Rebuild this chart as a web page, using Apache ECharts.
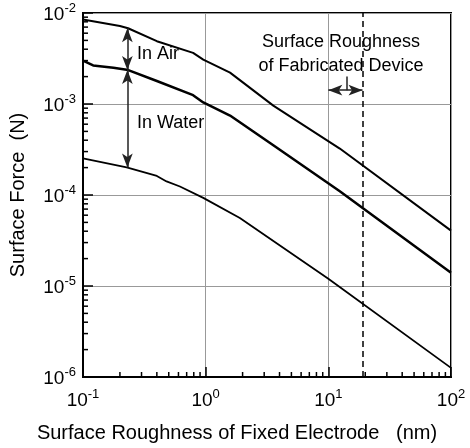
<!DOCTYPE html>
<html><head><meta charset="utf-8">
<script src="https://cdn.jsdelivr.net/npm/echarts@6/dist/echarts.min.js"></script>
<style>html,body{margin:0;padding:0;background:#fff}#c{width:470px;height:448px}</style>
</head><body><div id="c"></div>
<script>
// Data (x: nm, y: N)
var airX = [0.1, 0.2, 0.233, 0.40, 0.79, 0.956, 1.58, 3.56, 12.4, 100];
var airY = [8.5e-3, 7.2e-3, 6.8e-3, 4.9e-3, 3.65e-3, 3.08e-3, 2.21e-3, 9.6e-4, 3.24e-4, 4.06e-5];
var midX = [0.1, 0.121, 0.177, 0.234, 0.40, 0.79, 0.956, 1.58, 3.56, 12.4, 100];
var midY = [3.0e-3, 2.65e-3, 2.5e-3, 2.36e-3, 1.79e-3, 1.25e-3, 1.04e-3, 7.46e-4, 3.52e-4, 1.1e-4, 1.4e-5];
var lowX = [0.1, 0.227, 0.40, 0.48, 0.617, 0.956, 1.90, 10, 100];
var lowY = [2.52e-4, 2.01e-4, 1.62e-4, 1.41e-4, 1.24e-4, 9.3e-5, 5.6e-5, 1.2e-5, 1.26e-6];
var xMajor = [0.1, 1, 10, 100];
var yMajor = [1e-6, 1e-5, 1e-4, 1e-3, 1e-2];
var deviceRoughness = 19;          // dashed line (nm)
var deviceRange = [10, 19];        // arrow range (nm)
var arrowX = 0.23;                 // x of the vertical arrows
var airArrow = [6.8e-3, 2.36e-3];
var waterArrow = [2.36e-3, 2.0e-4];

function zip(a, b) { return a.map(function (v, i) { return [v, b[i]]; }); }
function minors(majors) {
  var out = [];
  for (var i = 0; i < majors.length - 1; i++) for (var k = 2; k <= 9; k++) out.push(+(majors[i] * k).toPrecision(6));
  return out;
}
var xMinor = minors(xMajor), yMinor = minors(yMajor);
var FONT = '"Liberation Sans", Arial, sans-serif';
var rich = {
  b: { fontSize: 19, fontFamily: FONT, color: '#000', verticalAlign: 'bottom' },
  s: { fontSize: 13, fontFamily: FONT, color: '#000', verticalAlign: 'bottom', padding: [0, 0, 9, 0] }
};
function powFmt(v) {
  var e = Math.round(Math.log10(v));
  return '{b|10}{s|' + e + '}';
}
var chart = echarts.init(document.getElementById('c'));
var lineBase = { type: 'line', showSymbol: false, symbol: 'none', silent: true, animation: false, z: 3 };
// minor tick anchors: [x, y, kind] (kind 0 = on x axis, 1 = on y axis)
var tickData = xMinor.map(function (v) { return [v, yMajor[0], 0]; })
  .concat(yMinor.map(function (v) { return [xMajor[0], v, 1]; }));
chart.setOption({
  animation: false,
  grid: { left: 83, top: 13, right: 19, bottom: 66, show: true, borderColor: '#000', borderWidth: 2 },
  xAxis: {
    type: 'log', logBase: 10, min: 0.1, max: 100,
    name: 'Surface Roughness of Fixed Electrode   (nm)', nameLocation: 'middle', nameGap: 46,
    nameTextStyle: { fontSize: 20, fontFamily: FONT, color: '#000', padding: [0, 60, 0, 0] },
    axisLine: { lineStyle: { color: '#000', width: 2 } },
    axisTick: { inside: true, length: 10, lineStyle: { color: '#000', width: 1.5 } },
    axisLabel: { margin: 11, formatter: powFmt, rich: rich },
    splitLine: { show: true, lineStyle: { color: '#999', width: 1 } }
  },
  yAxis: {
    type: 'log', logBase: 10, min: 1e-6, max: 1e-2,
    name: 'Surface Force  (N)', nameLocation: 'middle', nameGap: 55,
    nameTextStyle: { fontSize: 20, fontFamily: FONT, color: '#000' },
    axisLine: { lineStyle: { color: '#000', width: 2 } },
    axisTick: { inside: true, length: 10, lineStyle: { color: '#000', width: 1.5 } },
    axisLabel: { margin: 7, formatter: powFmt, rich: rich },
    splitLine: { show: true, lineStyle: { color: '#999', width: 1 } }
  },
  series: [
    {
      type: 'custom', clip: false, z: 10,
      data: tickData,
      encode: { x: 0, y: 1 },
      renderItem: function (params, api) {
        var p = api.coord([api.value(0), api.value(1)]);
        var kind = api.value(2);
        var shape = kind === 0
          ? { x1: p[0], y1: p[1], x2: p[0], y2: p[1] - 5 }
          : { x1: p[0], y1: p[1], x2: p[0] + 5, y2: p[1] };
        return { type: 'line', shape: shape, style: { stroke: '#000', lineWidth: 1.5 } };
      }
    },
    Object.assign({}, lineBase, {
      data: zip(airX, airY), lineStyle: { color: '#000', width: 2 },
      markLine: {
        silent: true, symbol: 'none', animation: false,
        lineStyle: { color: '#000', width: 1.5, type: [6, 4] }, label: { show: false },
        data: [{ xAxis: deviceRoughness }]
      }
    }),
    Object.assign({}, lineBase, {
      data: zip(midX, midY), lineStyle: { color: '#000', width: 2.5 },
      markLine: {
        silent: true, animation: false, symbol: ['arrow', 'arrow'], symbolSize: [8, 14],
        lineStyle: { color: '#222', width: 1.5, type: 'solid' }, label: { show: false },
        data: [
          [{ coord: [arrowX, airArrow[0]] }, { coord: [arrowX, airArrow[1]] }],
          [{ coord: [arrowX, waterArrow[0]] }, { coord: [arrowX, waterArrow[1]] }],
          [{ coord: [deviceRange[0], 1.42e-3] }, { coord: [deviceRange[1], 1.42e-3] }],
          [{ coord: [14.1, 2.0e-3], symbol: 'none' }, { coord: [14.1, 1.42e-3], symbol: 'none' }]
        ]
      },
      markPoint: {
        silent: true, animation: false, symbol: 'circle', symbolSize: 0,
        data: [
          { coord: [0.275, 3.5e-3], label: { show: true, position: 'right', distance: 0, formatter: 'In Air', fontSize: 18, fontFamily: FONT, color: '#000' } },
          { coord: [0.275, 6.2e-4], label: { show: true, position: 'right', distance: 0, formatter: 'In Water', fontSize: 18, fontFamily: FONT, color: '#000' } },
          { coord: [12.7, 3.5e-3], label: { show: true, position: 'inside', formatter: 'Surface Roughness\nof Fabricated Device', fontSize: 18, lineHeight: 24, align: 'center', fontFamily: FONT, color: '#000' } }
        ]
      }
    }),
    Object.assign({}, lineBase, {
      data: zip(lowX, lowY), lineStyle: { color: '#000', width: 1.8 }
    })
  ]
});
</script></body></html>
